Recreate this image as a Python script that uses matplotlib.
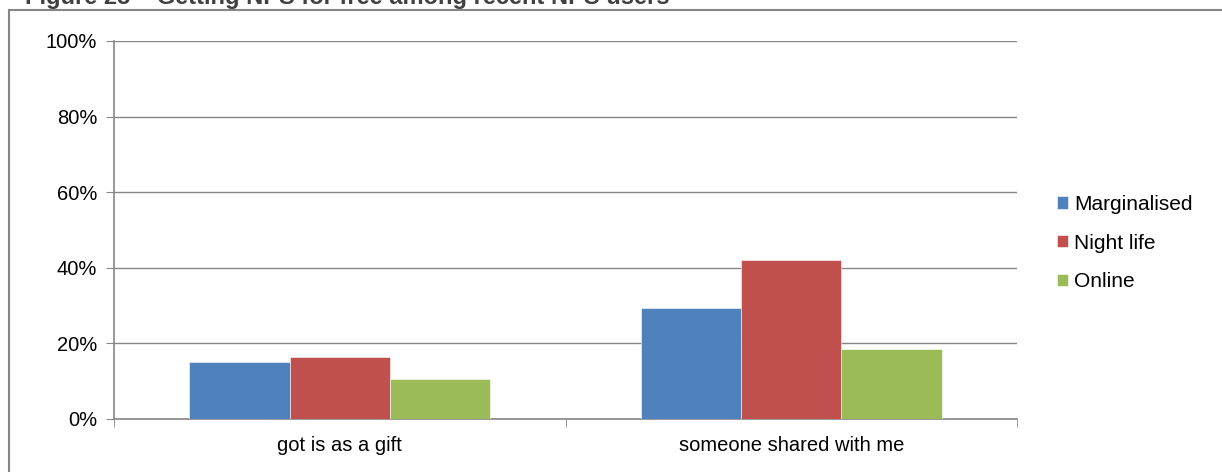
import matplotlib.pyplot as plt
import numpy as np
from matplotlib.lines import Line2D
from matplotlib.ticker import FuncFormatter

categories = ['got is as a gift', 'someone shared with me']
series = ['Marginalised', 'Night life', 'Online']
marginalised = [15.1, 29.4]
night_life = [16.3, 42.0]
online = [10.5, 18.4]
colors = ['#4F81BD', '#C0504D', '#9BBB59']

plt.rcParams['font.family'] = ['Liberation Sans', 'DejaVu Sans']

W, H = 1222, 472
fig = plt.figure(figsize=(W / 100, H / 100), dpi=100)
ax = fig.add_axes([114 / W, 1 - 419 / H, (1017 - 114) / W, (419 - 41) / H])

x = np.arange(len(categories))
bw = 0.222
for i, (vals, name) in enumerate(zip([marginalised, night_life, online], series)):
    ax.bar(x + (i - 1) * bw, vals, bw, color=colors[i], label=name,
           edgecolor='white', linewidth=0.4, zorder=3)

ax.set_xlim(-0.5, 1.5)
ax.set_ylim(0, 100)
ax.set_yticks(np.arange(0, 101, 20))
ax.yaxis.set_major_formatter(FuncFormatter(lambda v, _: f'{v:.0f}%'))
ax.set_xticks(x)
ax.set_xticklabels(categories)
ax.set_xticks([-0.5, 0.5, 1.5], minor=True)
ax.tick_params(axis='x', which='major', length=0, pad=12, labelsize=14.5)
ax.tick_params(axis='x', which='minor', length=6, color='#868686', direction='out')
ax.tick_params(axis='y', length=6, color='#868686', labelsize=14.5, pad=6)
ax.grid(axis='y', color='#868686', linewidth=1, zorder=0)
for s in ['top', 'right']:
    ax.spines[s].set_visible(False)
for s in ['left', 'bottom']:
    ax.spines[s].set_color('#868686')
    ax.spines[s].set_linewidth(1.2)

leg = fig.legend(loc='upper left', bbox_to_anchor=(1038 / W, 1 - 176 / H),
                 frameon=False, fontsize=15, handlelength=0.55, handleheight=0.55,
                 handletextpad=0.3, labelspacing=0.95)

# outer frame (partly cropped)
fig.add_artist(Line2D([9 / W, 9 / W], [0, 1 - 10 / H], color='#868686', linewidth=1.5))
fig.add_artist(Line2D([9 / W, 1], [1 - 10 / H, 1 - 10 / H], color='#868686', linewidth=1.5))

fig.text(25 / W, 1 - 4 / H, 'Figure 25 \u2013 Getting NPS for free among recent NPS users',
         fontsize=17, fontweight='bold', color='#404040', va='baseline')

fig.savefig('out.png', dpi=100)
